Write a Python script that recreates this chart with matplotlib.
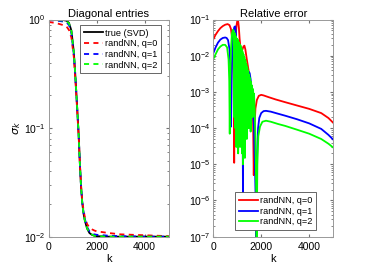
import matplotlib
matplotlib.use('Agg')
import matplotlib.pyplot as plt
from matplotlib.ticker import LogLocator, NullFormatter

plt.rcParams['font.family'] = ['Liberation Sans', 'DejaVu Sans']
plt.rcParams['mathtext.fontset'] = 'dejavusans'

# ---- left panel: singular values (diagonal entries) ----
k_diag = [0, 300, 600, 750, 850, 950, 1050, 1100, 1150, 1200, 1250, 1300, 1350,
          1400, 1450, 1500, 1600, 1700, 1800, 1900, 2000, 2500, 3000, 4000, 5000]
sigma_true = [1.0, 1.0, 0.99, 0.975, 0.93, 0.79, 0.5, 0.34, 0.22, 0.14, 0.088, 0.048, 0.029,
              0.0205, 0.0165, 0.0143, 0.0119, 0.0108, 0.0104, 0.0102, 0.0101, 0.01, 0.01, 0.01, 0.01]
sigma_q0 = [0.95, 0.93, 0.89, 0.86, 0.8, 0.68, 0.45, 0.31, 0.205, 0.132, 0.085, 0.048, 0.03,
            0.0215, 0.0178, 0.0155, 0.0131, 0.0121, 0.0117, 0.0114, 0.0112, 0.0108, 0.0105, 0.0103, 0.0101]
sigma_q1 = [0.99, 0.98, 0.96, 0.94, 0.89, 0.75, 0.48, 0.33, 0.215, 0.138, 0.087, 0.048, 0.029,
            0.021, 0.017, 0.0148, 0.0123, 0.0112, 0.0107, 0.0105, 0.0104, 0.0102, 0.0101, 0.01, 0.01]
sigma_q2 = [1.0, 0.99, 0.98, 0.965, 0.92, 0.78, 0.5, 0.34, 0.22, 0.14, 0.088, 0.048, 0.029,
            0.0205, 0.0166, 0.0144, 0.012, 0.0109, 0.0105, 0.0102, 0.0101, 0.01, 0.01, 0.01, 0.01]

# ---- right panel: relative error ----
k_r = [0, 100, 200, 300, 400, 500, 600, 680, 740, 790, 830, 855,
       875, 895, 920, 950, 980, 1010, 1040, 1070, 1100, 1140, 1180, 1220,
       1260, 1300, 1340, 1400, 1460, 1520, 1580, 1630, 1660, 1690, 1720, 1760,
       1820, 1900, 2000, 2100, 2300, 2600, 3000, 3500, 4000, 4500, 4800, 5000]
err_q0 = [0.028, 0.038, 0.048, 0.058, 0.066, 0.072, 0.075, 0.07, 0.055, 0.03, 0.01, 0.002,
          1.1e-5, 0.002, 0.015, 0.045, 0.075, 0.095, 0.09, 0.06, 0.03, 0.016, 0.013, 0.015,
          0.018, 0.019, 0.015, 0.008, 0.0045, 0.0025, 0.0014, 0.0006, 0.0002, 5e-6, 0.0001, 0.00035,
          0.0006, 0.00078, 0.00083, 0.0008, 0.00072, 0.00062, 0.00052, 0.00042, 0.00034, 0.00026, 0.00019, 0.00014]

k_b = [0, 100, 200, 300, 400, 500, 560, 620, 680, 720, 745, 770,
       800, 840, 880, 920, 950, 980, 1010, 1040, 1070, 1100, 1130, 1160,
       1190, 1220, 1240, 1260, 1290, 1330, 1380, 1430, 1480, 1520, 1560, 1600,
       1650, 1700, 1740, 1770, 1800, 1830, 1870, 1920, 2000, 2100, 2200, 2400,
       2700, 3000, 3500, 4000, 4500, 4800, 5000]
err_q1 = [0.0115, 0.017, 0.023, 0.028, 0.031, 0.032, 0.031, 0.027, 0.015, 0.004, 1.1e-4, 0.003,
          0.02, 0.045, 0.062, 0.065, 0.04, 0.01, 0.002, 0.008, 0.012, 0.006, 0.001, 0.005,
          0.008, 0.003, 1.6e-6, 0.001, 0.003, 0.0022, 0.001, 0.0025, 0.0036, 0.0033, 0.0022, 0.0012,
          0.0004, 0.0001, 1e-5, 1e-6, 5e-8, 2e-5, 1e-4, 1.9e-4, 2.6e-4, 2.95e-4, 3.0e-4, 2.85e-4,
          2.5e-4, 2.2e-4, 1.75e-4, 1.35e-4, 9.5e-5, 6.5e-5, 4.8e-5]

k_g = [0, 100, 200, 300, 400, 500, 580, 640, 670, 690, 710, 740, 780, 820, 850,
       880, 900, 920, 940, 960, 980, 1000, 1020, 1040, 1060, 1080, 1100, 1120, 1140,
       1160, 1180, 1200, 1220, 1240, 1260, 1280, 1300, 1320, 1340, 1360, 1380,
       1400, 1420, 1440, 1460, 1480, 1500, 1520, 1540, 1560, 1580, 1600, 1620,
       1640, 1660, 1680, 1700,
       1730, 1760, 1790, 1810, 1840, 1880, 1950, 2050, 2200, 2400, 2700, 3000,
       3500, 4000, 4500, 4800, 5000]
err_q2 = [0.008, 0.011, 0.015, 0.018, 0.02, 0.02, 0.017, 0.008, 0.002, 7e-5, 0.002, 0.015, 0.04, 0.052, 0.05,
          2e-4, 0.042, 1e-4, 0.035, 3e-5, 0.03, 5e-4, 0.028, 2e-5, 0.024, 1e-4, 0.021, 3e-5, 0.019,
          2e-4, 0.016, 2e-5, 0.013, 1e-5, 0.011, 1e-4, 0.009, 1.5e-5, 0.0075, 3e-4, 0.006,
          5e-5, 0.0048, 2e-4, 0.0038, 1e-4, 0.003, 3e-4, 0.0024, 8e-5, 0.0019, 4e-4, 0.0015,
          2e-4, 0.0012, 5e-4, 0.0009,
          0.0003, 5e-5, 2e-6, 5e-8, 1e-5, 6e-5, 1.1e-4, 1.5e-4, 1.6e-4, 1.5e-4, 1.3e-4, 1.15e-4,
          9e-5, 7e-5, 5e-5, 3.7e-5, 2.9e-5]

colors = ['red', 'blue', '#00ff00']
q_labels = ['randNN, q=0', 'randNN, q=1', 'randNN, q=2']

fig = plt.figure(figsize=(3.74, 2.68), dpi=100)
ax1 = fig.add_axes([0.130, 0.117, 0.321, 0.810])
ax2 = fig.add_axes([0.570, 0.117, 0.321, 0.810])

lw = 1.3
ax1.semilogy(k_diag, sigma_true, color='black', lw=lw, label='true (SVD)')
for vals, c, lab in zip([sigma_q0, sigma_q1, sigma_q2], colors, q_labels):
    ax1.semilogy(k_diag, vals, color=c, lw=lw, ls=(0, (2.8, 2.4)), label=lab)

ax2.semilogy(k_r, err_q0, color=colors[0], lw=lw, label=q_labels[0])
ax2.semilogy(k_b, err_q1, color=colors[1], lw=lw, label=q_labels[1])
ax2.semilogy(k_g, err_q2, color=colors[2], lw=lw, label=q_labels[2])

ax1.set_ylim(1e-2, 1)
ax2.set_ylim(1e-7, 1e-1)

for ax in (ax1, ax2):
    ax.set_xlim(0, 5000)
    ax.set_xticks([0, 2000, 4000])
    ax.yaxis.set_major_locator(LogLocator(base=10, numticks=10))
    ax.yaxis.set_minor_locator(LogLocator(base=10, subs=range(2, 10), numticks=20))
    ax.yaxis.set_minor_formatter(NullFormatter())
    ax.tick_params(which='both', direction='in', top=True, right=True,
                   labelsize=7.5, color='0.45', pad=2)
    ax.tick_params(axis='x', pad=3.5)
    ax.tick_params(which='major', length=2.5)
    ax.tick_params(which='minor', length=1.5)
    for sp in ax.spines.values():
        sp.set_color('0.6')
        sp.set_linewidth(0.7)
    ax.set_xlabel('k', fontsize=8, labelpad=1.5)

ax1.set_title('Diagonal entries', fontsize=8, pad=2)
ax2.set_title('Relative error', fontsize=8, pad=2)
ax1.set_ylabel(r'$\sigma_k$', fontsize=8, labelpad=1)

leg_kw = dict(fontsize=6.6, fancybox=False, framealpha=1, edgecolor='0.3',
              handlelength=2.1, handletextpad=0.25, borderpad=0.4,
              labelspacing=0.18, borderaxespad=0)
l1 = ax1.legend(loc='upper right', bbox_to_anchor=(0.94, 0.975), **leg_kw)
l2 = ax2.legend(loc='lower center', bbox_to_anchor=(0.52, 0.03), **leg_kw)
for l in (l1, l2):
    l.get_frame().set_linewidth(0.6)

fig.savefig('out.png', dpi=100)
